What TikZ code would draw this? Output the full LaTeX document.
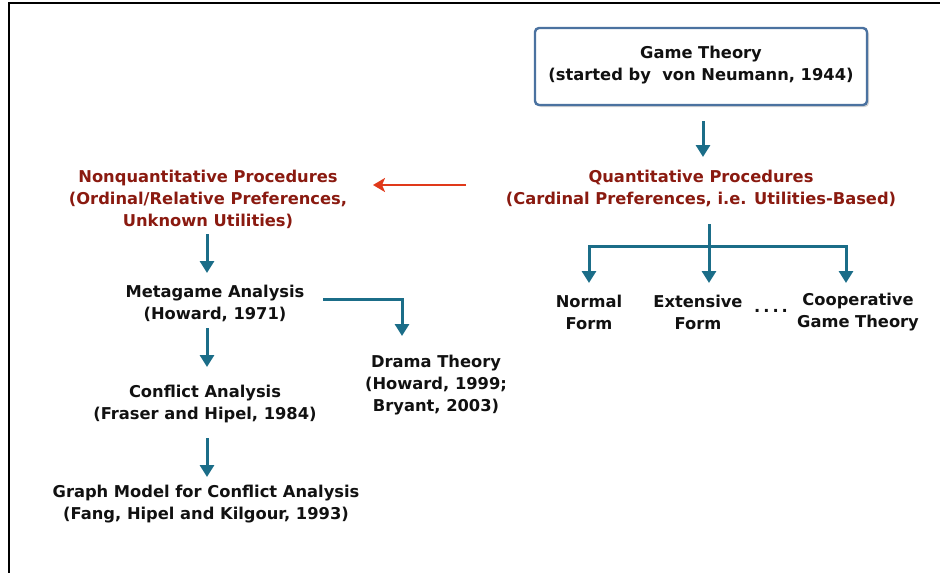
\documentclass[tikz,border=0pt]{standalone}
\usepackage{fontspec}
\setmainfont{DejaVu Sans}
\usetikzlibrary{arrows.meta,shadows}
\definecolor{teal1}{HTML}{1B6D88}
\definecolor{dred}{HTML}{8A1A10}
\definecolor{rarrow}{HTML}{E0391A}
\definecolor{boxc}{HTML}{4B72A0}
\definecolor{txt}{HTML}{111111}
\begin{document}
\begin{tikzpicture}[x=1pt,y=-1pt,
  lbl/.style={font=\bfseries\fontsize{16.3}{22}\selectfont, align=center, text=txt, inner sep=0pt},
  rlbl/.style={lbl, text=dred},
  arr/.style={draw=teal1, line width=3pt, -{Triangle[length=12pt,width=14pt]}},
  lin/.style={draw=teal1, line width=3pt},
  redarr/.style={draw=rarrow, line width=2.6pt, -{Stealth[length=12pt,width=14pt,inset=3pt]}},
  gbox/.style={draw=boxc, line width=2.4pt, rounded corners=4pt, fill=white,
    drop shadow={shadow xshift=2pt, shadow yshift=-2pt, opacity=0.35},
    minimum width=332pt, minimum height=77pt}
]
\useasboundingbox (0,0) rectangle (940,573);
\draw[line width=2.5pt] (9,575) -- (9,3) -- (942,3);

\node[gbox] (gtbox) at (701,66.5) {};
\node[lbl] (gt) at (701,65) {Game Theory\\(started by\ \ von Neumann, 1944)};

\node[rlbl] (quant) at (701,188) {Quantitative Procedures\\(Cardinal Preferences, i.e. Utilities-Based)};
\node[rlbl] (nonq) at (208,199) {Nonquantitative Procedures\\(Ordinal/Relative Preferences,\\Unknown Utilities)};
\node[lbl] (meta) at (215,303) {Metagame Analysis\\(Howard, 1971)};
\node[lbl] (drama) at (436,385) {Drama Theory\\(Howard, 1999;\\Bryant, 2003)};
\node[lbl] (confl) at (205,404) {Conflict Analysis\\(Fraser and Hipel, 1984)};
\node[lbl] (graph) at (206,504) {Graph Model for Conflict Analysis\\(Fang, Hipel and Kilgour, 1993)};
\node[lbl] (normal) at (589,312) {Normal\\Form};
\node[lbl] (ext) at (698,312) {Extensive\\Form};
\node[lbl] (dots) at (771,311) {.\hspace{3pt}.\hspace{3pt}.\hspace{3pt}.};
\node[lbl] (coop) at (858,312) {Cooperative\\Game Theory};
\coordinate (br) at (709,246);

% connectors
\draw[arr] ([xshift=2pt,yshift=-15pt]gtbox.south) -- ([xshift=2pt,yshift=31pt]quant.center);
\draw[redarr] ([xshift=-235pt,yshift=3pt]quant.center) -- ([xshift=165pt,yshift=14pt]nonq.center);
\draw[arr] ([xshift=-1pt,yshift=-35pt]nonq.center) -- ([xshift=-8pt,yshift=30pt]meta.center);
\draw[arr] ([xshift=-8pt,yshift=-25pt]meta.center) -- ([xshift=2pt,yshift=37pt]confl.center);
\draw[arr] ([xshift=2pt,yshift=-34pt]confl.center) -- ([xshift=1pt,yshift=27pt]graph.center);
\draw[arr] ([xshift=108pt,yshift=4pt]meta.center) -| ([xshift=-34pt,yshift=49pt]drama.center);
\draw[lin] ([xshift=8pt,yshift=-36pt]quant.center) -- (br);
\draw[arr] (br) -| ([yshift=29pt]normal.center);
\draw[arr] (br) -- ([xshift=11pt,yshift=29pt]ext.center);
\draw[arr] (br) -| ([xshift=-12pt,yshift=29pt]coop.center);
\end{tikzpicture}
\end{document}
